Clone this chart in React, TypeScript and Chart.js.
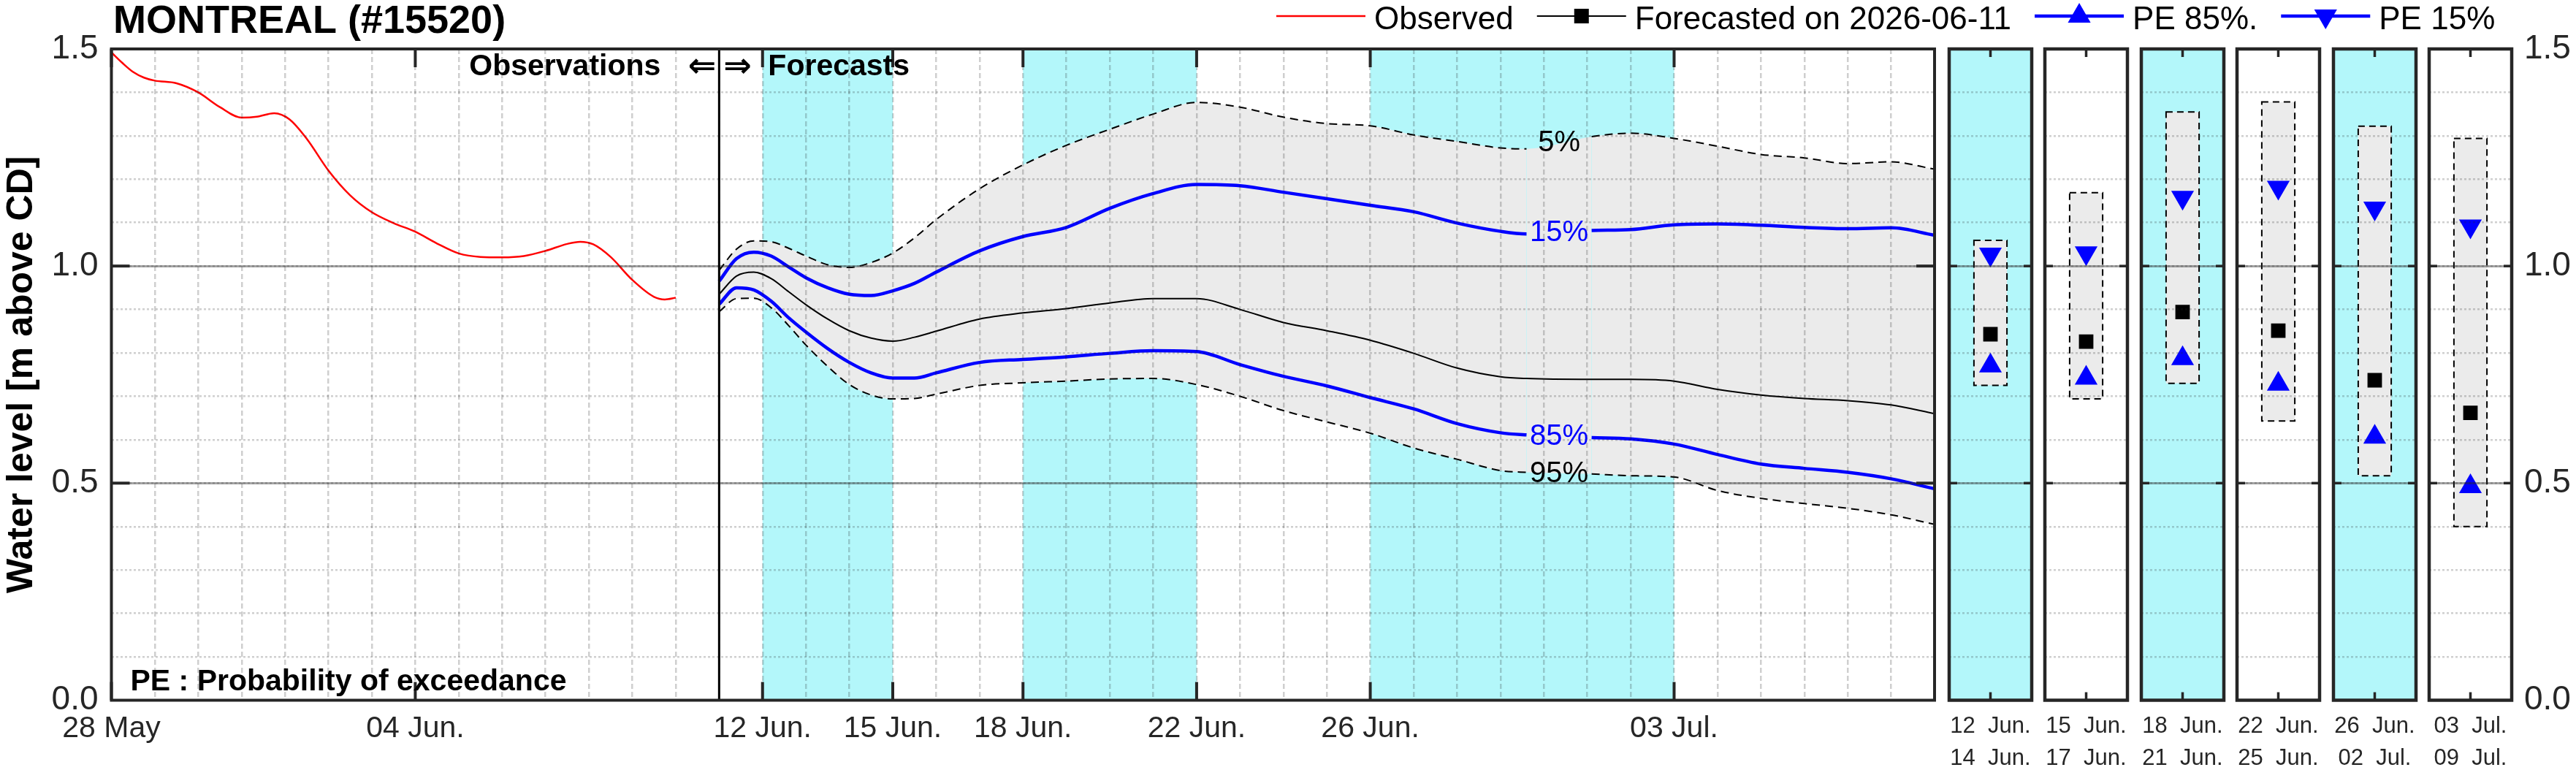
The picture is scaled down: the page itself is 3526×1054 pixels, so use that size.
import React, { useEffect, useRef } from 'react';
import { Chart, registerables } from 'chart.js';

Chart.register(...registerables);

const FONT = '"Liberation Sans", Arial, Helvetica, sans-serif';
Chart.defaults.font.family = FONT;

const AXIS_COLOR = '#262626';
const CYAN = '#b3f7fa';
const BAND_GREY = '#ebebeb';
const BLUE = '#0000ff';
const RED = '#ff0000';
const GRID_MINOR = 'rgba(38,38,38,0.22)';
const GRID_MAJOR = 'rgba(38,38,38,0.42)';

const W = 3526;
const H = 1054;
const PLOT_TOP = 67;
const PLOT_BOTTOM = 958.5;
const PLOT_LEFT = 152.5;
const PLOT_RIGHT = 2648;
const PANEL_FIRST_LEFT = 2668;
const PANEL_STEP = 131.4;
const PANEL_WIDTH = 113;
const PANEL_MARGIN = 30;

// ---------- data (days counted from 28 May 00:00) ----------
const X_MIN_DAY = 0;
const X_MAX_DAY = 42;
const TICK_DAYS = [0, 7, 15, 18, 21, 25, 29, 36];
const TICK_LABELS = ['28 May', '04 Jun.', '12 Jun.', '15 Jun.', '18 Jun.', '22 Jun.', '26 Jun.', '03 Jul.'];
const Y_MAJOR = [0.5, 1.0];
const FORECAST_START_DAY = 14;
const BAND_STARTS = [15, 21, 29];
const BAND_ENDS = [18, 25, 36];

const OBS_DAYS = [0, 0.25, 0.5, 0.75, 1, 1.5, 2, 2.5, 3, 3.35, 3.75, 4.1, 4.5, 5, 5.5, 6, 6.5, 7, 7.5, 8, 8.5, 9, 9.5, 10, 10.5, 10.8, 11.1, 11.5, 12, 12.5, 12.75, 13];
const OBS_LEVEL = [1.492, 1.468, 1.447, 1.434, 1.427, 1.421, 1.400, 1.366, 1.342, 1.344, 1.352, 1.338, 1.293, 1.220, 1.163, 1.124, 1.099, 1.079, 1.052, 1.029, 1.021, 1.020, 1.023, 1.035, 1.051, 1.056, 1.050, 1.021, 0.968, 0.929, 0.923, 0.927];

const FC_DAYS = [14, 14.4, 14.8, 15.2, 15.6, 16, 16.5, 17, 17.5, 18, 18.5, 19, 20, 21, 22, 23, 24, 25, 26, 27, 28, 29, 30, 31, 32, 32.6, 34.1, 35, 36, 37, 38, 39, 40, 41, 42];
const FC_P5 = [0.990, 1.039, 1.058, 1.056, 1.041, 1.023, 1.003, 0.997, 1.008, 1.030, 1.065, 1.107, 1.178, 1.233, 1.278, 1.315, 1.350, 1.377, 1.366, 1.343, 1.328, 1.323, 1.302, 1.287, 1.272, 1.270, 1.298, 1.306, 1.294, 1.276, 1.257, 1.249, 1.236, 1.240, 1.223];
const FC_P15 = [0.965, 1.017, 1.032, 1.023, 0.998, 0.973, 0.950, 0.935, 0.932, 0.943, 0.960, 0.986, 1.035, 1.068, 1.089, 1.133, 1.167, 1.188, 1.185, 1.170, 1.155, 1.140, 1.125, 1.099, 1.080, 1.074, 1.082, 1.084, 1.095, 1.097, 1.094, 1.089, 1.086, 1.088, 1.071];
const FC_MEDIAN = [0.935, 0.977, 0.986, 0.971, 0.941, 0.911, 0.878, 0.851, 0.834, 0.827, 0.836, 0.850, 0.878, 0.892, 0.902, 0.915, 0.925, 0.925, 0.900, 0.870, 0.851, 0.829, 0.799, 0.765, 0.745, 0.741, 0.739, 0.739, 0.735, 0.716, 0.703, 0.695, 0.690, 0.680, 0.660];
const FC_P85 = [0.912, 0.950, 0.945, 0.919, 0.881, 0.848, 0.810, 0.778, 0.754, 0.742, 0.742, 0.754, 0.778, 0.785, 0.791, 0.799, 0.805, 0.803, 0.773, 0.746, 0.724, 0.697, 0.671, 0.637, 0.616, 0.611, 0.605, 0.602, 0.590, 0.566, 0.544, 0.534, 0.525, 0.510, 0.487];
const FC_P95 = [0.895, 0.925, 0.926, 0.904, 0.863, 0.818, 0.769, 0.727, 0.703, 0.694, 0.695, 0.705, 0.725, 0.731, 0.735, 0.740, 0.741, 0.727, 0.700, 0.667, 0.641, 0.615, 0.581, 0.555, 0.529, 0.525, 0.521, 0.517, 0.514, 0.483, 0.465, 0.453, 0.442, 0.427, 0.405];

const LINE_LABELS = ['5%', '15%', '85%', '95%'];
const LABEL_DAY = 33.35;
const LABEL_GAP_START = 32.6;
const LABEL_GAP_END = 34.1;

const LEGEND_LABELS = ['Observed', 'Forecasted on 2026-06-11', 'PE 85%.', 'PE 15%'];
const TITLE = 'MONTREAL (#15520)';
const Y_TITLE = 'Water level [m above CD]';

const PERIOD_LABELS = [
  ['12  Jun.', '14  Jun.'],
  ['15  Jun.', '17  Jun.'],
  ['18  Jun.', '21  Jun.'],
  ['22  Jun.', '25  Jun.'],
  ['26  Jun.', '02  Jul.'],
  ['03  Jul.', '09  Jul.'],
];
const PERIOD_SHADED = [true, false, true, false, true, false];
const PERIOD_P5 = [1.059, 1.169, 1.355, 1.378, 1.322, 1.294];
const PERIOD_P95 = [0.725, 0.694, 0.730, 0.643, 0.517, 0.400];
const PERIOD_P15 = [1.027, 1.030, 1.158, 1.181, 1.133, 1.092];
const PERIOD_MEDIAN = [0.843, 0.826, 0.894, 0.851, 0.737, 0.662];
const PERIOD_P85 = [0.770, 0.742, 0.787, 0.728, 0.606, 0.492];

// ---------- helpers ----------
const pts = (xs: number[], ys: number[]) => xs.map((x, i) => ({ x, y: ys[i] }));

function gapSegment(color: string) {
  return {
    borderColor: (c: any) =>
      c.p0.parsed.x >= LABEL_GAP_START - 1e-9 && c.p1.parsed.x <= LABEL_GAP_END + 1e-9 ? 'rgba(0,0,0,0)' : color,
  };
}

function interpAt(xs: number[], ys: number[], x: number) {
  for (let k = 0; k < xs.length - 1; k++) {
    if (x >= xs[k] && x <= xs[k + 1]) {
      const t = (x - xs[k]) / (xs[k + 1] - xs[k]);
      return ys[k] + t * (ys[k + 1] - ys[k]);
    }
  }
  return ys[ys.length - 1];
}

function line(ctx: CanvasRenderingContext2D, x0: number, y0: number, x1: number, y1: number) {
  ctx.beginPath();
  ctx.moveTo(x0, y0);
  ctx.lineTo(x1, y1);
  ctx.stroke();
}

function drawMarker(ctx: CanvasRenderingContext2D, kind: string | null, x: number, y: number, color: string) {
  if (!kind) return;
  ctx.fillStyle = color;
  ctx.beginPath();
  if (kind === 'rect') {
    ctx.rect(x - 10, y - 10, 20, 20);
  } else if (kind === 'up') {
    ctx.moveTo(x, y - 18);
    ctx.lineTo(x + 15.6, y + 9);
    ctx.lineTo(x - 15.6, y + 9);
    ctx.closePath();
  } else {
    ctx.moveTo(x, y + 18);
    ctx.lineTo(x + 15.6, y - 9);
    ctx.lineTo(x - 15.6, y - 9);
    ctx.closePath();
  }
  ctx.fill();
}

const yLabel = (v: any) => {
  const n = Number(v);
  return Math.abs(n * 2 - Math.round(n * 2)) < 1e-6 ? n.toFixed(1) : '';
};

const xLabel = (v: any) => {
  const n = Number(v);
  const r = Math.round(n);
  if (Math.abs(n - r) > 1e-6) return '';
  const i = TICK_DAYS.indexOf(r);
  return i >= 0 ? TICK_LABELS[i] : '';
};

// ---------- main chart plugin ----------
const mainDecor = {
  id: 'mainDecor',
  beforeDraw(chart: any) {
    const { ctx, chartArea: a, scales } = chart;
    const x = scales.x;
    ctx.save();
    ctx.fillStyle = '#ffffff';
    ctx.fillRect(0, 0, chart.width, chart.height);
    ctx.fillStyle = CYAN;
    BAND_STARTS.forEach((s, i) => {
      const x0 = x.getPixelForValue(s);
      const x1 = x.getPixelForValue(BAND_ENDS[i]);
      ctx.fillRect(x0, a.top, x1 - x0, a.bottom - a.top);
    });
    ctx.restore();
  },
  afterDraw(chart: any) {
    const { ctx, chartArea: a, scales } = chart;
    const x = scales.x;
    const y = scales.y;
    ctx.save();

    // observation / forecast divider
    const xd = x.getPixelForValue(FORECAST_START_DAY);
    ctx.strokeStyle = '#000';
    ctx.lineWidth = 3;
    line(ctx, xd, a.top, xd, a.bottom);

    // tick marks (inward)
    ctx.strokeStyle = AXIS_COLOR;
    ctx.lineWidth = 4;
    TICK_DAYS.forEach((d) => {
      const px = x.getPixelForValue(d);
      line(ctx, px, a.top, px, a.top + 25);
      line(ctx, px, a.bottom, px, a.bottom - 25);
    });
    Y_MAJOR.forEach((v) => {
      const py = y.getPixelForValue(v);
      line(ctx, a.left, py, a.left + 25, py);
      line(ctx, a.right, py, a.right - 25, py);
    });

    // frame
    ctx.lineWidth = 4;
    ctx.strokeRect(a.left, a.top, a.right - a.left, a.bottom - a.top);

    // annotations
    ctx.fillStyle = '#000';
    ctx.textBaseline = 'alphabetic';
    const by = a.top + 36;
    ctx.font = `bold 41px ${FONT}`;
    ctx.textAlign = 'right';
    ctx.fillText('Observations', xd - 80, by);
    ctx.textAlign = 'left';
    ctx.fillText('Forecasts', xd + 67, by);
    ctx.font = `bold 46px "DejaVu Sans", ${FONT}`;
    ctx.textAlign = 'right';
    ctx.fillText('\u21D0', xd - 4, by + 2);
    ctx.textAlign = 'left';
    ctx.fillText('\u21D2', xd + 6, by + 2);

    ctx.font = `bold 41px ${FONT}`;
    ctx.textAlign = 'left';
    ctx.fillText('PE : Probability of exceedance', a.left + 26, a.bottom - 13.5);

    // percentile line labels
    const series = [FC_P5, FC_P15, FC_P85, FC_P95];
    const colors = ['#000', BLUE, BLUE, '#000'];
    ctx.font = `40px ${FONT}`;
    ctx.textAlign = 'center';
    ctx.textBaseline = 'middle';
    series.forEach((s, i) => {
      const v = interpAt(FC_DAYS, s, LABEL_DAY);
      ctx.fillStyle = colors[i];
      ctx.fillText(LINE_LABELS[i], x.getPixelForValue(LABEL_DAY), y.getPixelForValue(v) + 1);
    });

    // title
    ctx.fillStyle = '#000';
    ctx.textBaseline = 'alphabetic';
    ctx.textAlign = 'left';
    ctx.font = `bold 54px ${FONT}`;
    ctx.fillText(TITLE, 155, 45);

    // legend
    const items = [
      { label: LEGEND_LABELS[0], color: RED, width: 2.5, marker: null, mc: RED },
      { label: LEGEND_LABELS[1], color: '#000', width: 2, marker: 'rect', mc: '#000' },
      { label: LEGEND_LABELS[2], color: BLUE, width: 4.5, marker: 'up', mc: BLUE },
      { label: LEGEND_LABELS[3], color: BLUE, width: 4.5, marker: 'down', mc: BLUE },
    ];
    ctx.font = `44px ${FONT}`;
    let lx = 1747;
    const ly = 22;
    items.forEach((it) => {
      ctx.strokeStyle = it.color;
      ctx.lineWidth = it.width;
      line(ctx, lx, ly, lx + 122, ly);
      drawMarker(ctx, it.marker, lx + 61, ly, it.mc);
      ctx.fillStyle = '#000';
      ctx.fillText(it.label, lx + 134, 40);
      lx += 134 + ctx.measureText(it.label).width + 32;
    });

    ctx.restore();
  },
};

function mainConfig(): any {
  const common = { pointRadius: 0, cubicInterpolationMode: 'monotone', borderCapStyle: 'butt' };
  return {
    type: 'line',
    data: {
      datasets: [
        { ...common, label: LINE_LABELS[0], data: pts(FC_DAYS, FC_P5), borderColor: '#000', borderWidth: 2, borderDash: [11, 7], fill: 4, backgroundColor: BAND_GREY, segment: gapSegment('#000') },
        { ...common, label: LEGEND_LABELS[3], data: pts(FC_DAYS, FC_P15), borderColor: BLUE, borderWidth: 4.5, fill: false, segment: gapSegment(BLUE) },
        { ...common, label: LEGEND_LABELS[1], data: pts(FC_DAYS, FC_MEDIAN), borderColor: '#000', borderWidth: 2, fill: false },
        { ...common, label: LEGEND_LABELS[2], data: pts(FC_DAYS, FC_P85), borderColor: BLUE, borderWidth: 4.5, fill: false, segment: gapSegment(BLUE) },
        { ...common, label: LINE_LABELS[3], data: pts(FC_DAYS, FC_P95), borderColor: '#000', borderWidth: 2, borderDash: [11, 7], fill: false, segment: gapSegment('#000') },
        { ...common, label: LEGEND_LABELS[0], data: pts(OBS_DAYS, OBS_LEVEL), borderColor: RED, borderWidth: 2.5, fill: false },
      ],
    },
    options: {
      responsive: false,
      animation: false,
      devicePixelRatio: 1,
      layout: { padding: { top: PLOT_TOP, right: W - PLOT_RIGHT, left: 0, bottom: 0 } },
      plugins: {
        legend: { display: false },
        tooltip: { enabled: false },
        filler: { drawTime: 'beforeDatasetsDraw' },
      },
      scales: {
        x: {
          type: 'linear',
          min: X_MIN_DAY,
          max: X_MAX_DAY,
          afterFit: (s: any) => { s.height = H - PLOT_BOTTOM; },
          grid: { color: GRID_MINOR, lineWidth: 2.5, drawTicks: false, z: 1 },
          border: { display: false, dash: [7, 4] },
          ticks: {
            stepSize: 1, autoSkip: false, maxRotation: 0, minRotation: 0, padding: 15,
            color: AXIS_COLOR, font: { size: 41, lineHeight: 1.2 }, callback: xLabel,
          },
        },
        y: {
          type: 'linear',
          position: 'left',
          min: 0,
          max: 1.5,
          afterFit: (s: any) => { s.width = PLOT_LEFT; },
          grid: { color: GRID_MINOR, lineWidth: 2.5, drawTicks: false, z: 1 },
          border: { display: false, dash: [3, 3] },
          ticks: { stepSize: 0.1, padding: 18, color: AXIS_COLOR, font: { size: 46 }, callback: yLabel },
          title: { display: true, text: Y_TITLE, color: '#000', font: { size: 50, weight: 'bold' }, padding: 0 },
        },
        y2: {
          type: 'linear',
          position: 'left',
          min: 0,
          max: 1.5,
          afterFit: (s: any) => { s.width = 0; },
          grid: {
            color: (c: any) => (c.tick && c.tick.value > 0.01 && c.tick.value < 1.49 ? GRID_MAJOR : 'rgba(0,0,0,0)'),
            lineWidth: 3, drawTicks: false, z: 1,
          },
          border: { display: false },
          ticks: { display: false, stepSize: 0.5 },
        },
      },
    },
    plugins: [mainDecor],
  };
}

function MainChart() {
  const ref = useRef<HTMLCanvasElement>(null);
  useEffect(() => {
    const chart = new Chart(ref.current as HTMLCanvasElement, mainConfig());
    return () => chart.destroy();
  }, []);
  return <canvas ref={ref} width={W} height={H} style={{ position: 'absolute', left: 0, top: 0 }} />;
}

// ---------- panels ----------
function makePanelDecor(shaded: boolean) {
  return {
    id: 'panelDecor',
    beforeDraw(chart: any) {
      const { ctx, chartArea: a } = chart;
      ctx.save();
      ctx.fillStyle = shaded ? CYAN : '#ffffff';
      ctx.fillRect(a.left, a.top, a.right - a.left, a.bottom - a.top);
      ctx.restore();
    },
    afterDatasetDraw(chart: any, args: any) {
      if (args.index !== 0) return;
      const el = chart.getDatasetMeta(0).data[0];
      if (!el) return;
      const { x, y, base, width } = el.getProps(['x', 'y', 'base', 'width'], true);
      const { ctx } = chart;
      ctx.save();
      ctx.strokeStyle = '#000';
      ctx.lineWidth = 2;
      ctx.setLineDash([9, 6]);
      ctx.strokeRect(x - width / 2, Math.min(y, base), width, Math.abs(base - y));
      ctx.restore();
    },
    afterDraw(chart: any) {
      const { ctx, chartArea: a, scales } = chart;
      ctx.save();
      ctx.strokeStyle = AXIS_COLOR;
      ctx.lineWidth = 3.5;
      const cx = scales.x.getPixelForValue(0);
      line(ctx, cx, a.top, cx, a.top + 11);
      line(ctx, cx, a.bottom, cx, a.bottom - 11);
      Y_MAJOR.forEach((v) => {
        const py = scales.y.getPixelForValue(v);
        line(ctx, a.left, py, a.left + 11, py);
        line(ctx, a.right, py, a.right - 11, py);
      });
      ctx.lineWidth = 4.5;
      ctx.strokeRect(a.left, a.top, a.right - a.left, a.bottom - a.top);
      ctx.restore();
    },
  };
}

function panelConfig(i: number, last: boolean, rightAxisWidth: number): any {
  const scales: any = {
    x: {
      type: 'category',
      offset: true,
      grid: { display: false, drawTicks: false },
      border: { display: false },
      afterFit: (s: any) => { s.height = H - PLOT_BOTTOM; },
      ticks: { padding: 13, color: AXIS_COLOR, maxRotation: 0, minRotation: 0, autoSkip: false, font: { size: 31, lineHeight: 1.45 } },
    },
    y: {
      type: 'linear',
      position: 'left',
      min: 0,
      max: 1.5,
      afterFit: (s: any) => { s.width = 0; },
      grid: { color: GRID_MINOR, lineWidth: 2.5, drawTicks: false, z: 1 },
      border: { display: false, dash: [3, 3] },
      ticks: { display: false, stepSize: 0.1 },
    },
    y2: {
      type: 'linear',
      position: 'left',
      min: 0,
      max: 1.5,
      afterFit: (s: any) => { s.width = 0; },
      grid: {
        color: (c: any) => (c.tick && c.tick.value > 0.01 && c.tick.value < 1.49 ? GRID_MAJOR : 'rgba(0,0,0,0)'),
        lineWidth: 3, drawTicks: false, z: 1,
      },
      border: { display: false },
      ticks: { display: false, stepSize: 0.5 },
    },
  };
  if (last) {
    scales.yr = {
      type: 'linear',
      position: 'right',
      min: 0,
      max: 1.5,
      afterFit: (s: any) => { s.width = rightAxisWidth; },
      grid: { display: false, drawTicks: false },
      border: { display: false },
      ticks: { stepSize: 0.5, padding: 17, color: AXIS_COLOR, font: { size: 46 }, callback: (v: any) => Number(v).toFixed(1) },
    };
  }
  return {
    type: 'bar',
    data: {
      labels: [PERIOD_LABELS[i]],
      datasets: [
        { type: 'bar', label: '5% - 95%', data: [[PERIOD_P95[i], PERIOD_P5[i]]], backgroundColor: BAND_GREY, borderWidth: 0, barPercentage: 0.4, categoryPercentage: 1, order: 2 },
        { type: 'line', label: LEGEND_LABELS[3], data: [PERIOD_P15[i]], showLine: false, pointStyle: 'triangle', pointRotation: 180, pointRadius: 18, pointBackgroundColor: BLUE, pointBorderColor: BLUE, pointBorderWidth: 0, order: 1 },
        { type: 'line', label: LEGEND_LABELS[1], data: [PERIOD_MEDIAN[i]], showLine: false, pointStyle: 'rect', pointRadius: 14, pointBackgroundColor: '#000', pointBorderColor: '#000', pointBorderWidth: 0, order: 1 },
        { type: 'line', label: LEGEND_LABELS[2], data: [PERIOD_P85[i]], showLine: false, pointStyle: 'triangle', pointRotation: 0, pointRadius: 18, pointBackgroundColor: BLUE, pointBorderColor: BLUE, pointBorderWidth: 0, order: 1 },
      ],
    },
    options: {
      responsive: false,
      animation: false,
      devicePixelRatio: 1,
      layout: { padding: { left: PANEL_MARGIN, right: last ? 0 : PANEL_MARGIN, top: PLOT_TOP, bottom: 0 } },
      plugins: { legend: { display: false }, tooltip: { enabled: false } },
      scales,
    },
    plugins: [makePanelDecor(PERIOD_SHADED[i])],
  };
}

function PanelChart({ index }: { index: number }) {
  const ref = useRef<HTMLCanvasElement>(null);
  const last = index === PERIOD_LABELS.length - 1;
  const panelLeft = Math.round(PANEL_FIRST_LEFT + index * PANEL_STEP);
  const left = panelLeft - PANEL_MARGIN;
  const rightAxisWidth = W - (panelLeft + PANEL_WIDTH);
  const width = last ? W - left : PANEL_WIDTH + 2 * PANEL_MARGIN;
  useEffect(() => {
    const chart = new Chart(ref.current as HTMLCanvasElement, panelConfig(index, last, rightAxisWidth));
    return () => chart.destroy();
  }, [index]);
  return <canvas ref={ref} width={width} height={H} style={{ position: 'absolute', left, top: 0 }} />;
}

export default function App() {
  return (
    <div style={{ position: 'absolute', left: 0, top: 0, width: W, height: H, background: '#fff', overflow: 'hidden' }}>
      <MainChart />
      {PERIOD_LABELS.map((_, i) => (
        <PanelChart key={i} index={i} />
      ))}
    </div>
  );
}
